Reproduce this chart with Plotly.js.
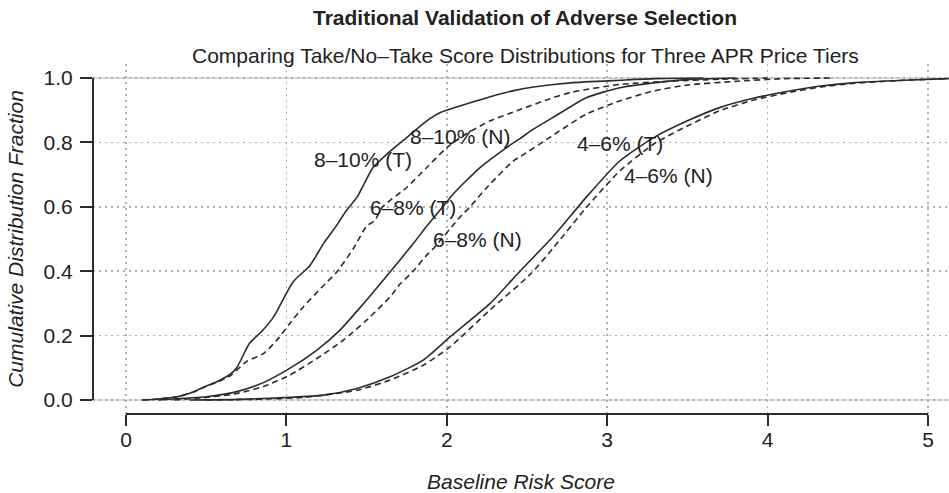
<!DOCTYPE html>
<html>
<head>
<meta charset="utf-8">
<script src="https://cdn.plot.ly/plotly-3.0.1.min.js"></script>
<style>html,body{margin:0;padding:0;background:#fff;}#chart{width:949px;height:493px;}</style>
</head>
<body>
<div id="chart"></div>
<script>
// ---- data ----
var t810_x = [0.10, 0.20, 0.32, 0.42, 0.49, 0.58, 0.65, 0.69, 0.77, 0.85, 0.92, 1.04, 1.147, 1.23, 1.31, 1.376, 1.44, 1.54, 1.625, 1.75, 1.875, 1.96, 2.08, 2.25, 2.41, 2.54, 2.77, 3.08, 3.30, 3.60];
var t810_y = [0.000, 0.003, 0.010, 0.025, 0.041, 0.060, 0.080, 0.100, 0.176, 0.215, 0.258, 0.366, 0.418, 0.485, 0.540, 0.590, 0.630, 0.722, 0.763, 0.815, 0.867, 0.893, 0.913, 0.939, 0.960, 0.972, 0.985, 0.993, 0.998, 1.000];

var n810_x = [0.10, 0.20, 0.32, 0.42, 0.49, 0.58, 0.65, 0.75, 0.856, 0.94, 1.02, 1.105, 1.23, 1.31, 1.417, 1.50, 1.55, 1.60, 1.75, 1.875, 2.00, 2.12, 2.27, 2.435, 2.64, 2.77, 3.08, 3.39, 3.70, 4.00];
var n810_y = [0.000, 0.003, 0.010, 0.025, 0.040, 0.058, 0.075, 0.119, 0.144, 0.186, 0.237, 0.289, 0.355, 0.395, 0.470, 0.540, 0.557, 0.600, 0.660, 0.722, 0.784, 0.826, 0.867, 0.898, 0.935, 0.955, 0.980, 0.990, 0.996, 1.000];

var t68_x = [0.20, 0.29, 0.50, 0.69, 0.856, 1.02, 1.19, 1.334, 1.48, 1.584, 1.708, 1.79, 1.875, 1.958, 2.04, 2.207, 2.373, 2.456, 2.54, 2.66, 2.87, 3.08, 3.29, 3.50, 3.80];
var t68_y = [0.000, 0.003, 0.010, 0.026, 0.054, 0.098, 0.155, 0.217, 0.299, 0.360, 0.435, 0.485, 0.540, 0.590, 0.640, 0.722, 0.784, 0.812, 0.841, 0.877, 0.939, 0.970, 0.985, 0.995, 1.000];

var n68_x = [0.30, 0.50, 0.69, 0.856, 1.02, 1.19, 1.355, 1.50, 1.646, 1.708, 1.79, 1.875, 1.916, 2.08, 2.145, 2.25, 2.415, 2.456, 2.64, 2.87, 3.08, 3.29, 3.50, 3.81, 4.10, 4.40];
var n68_y = [0.000, 0.008, 0.020, 0.042, 0.077, 0.129, 0.186, 0.248, 0.320, 0.360, 0.400, 0.450, 0.470, 0.567, 0.600, 0.660, 0.743, 0.755, 0.815, 0.888, 0.929, 0.960, 0.978, 0.990, 0.998, 1.000];

var t46_x = [0.40, 0.70, 1.02, 1.23, 1.44, 1.646, 1.853, 2.02, 2.27, 2.456, 2.66, 2.87, 3.08, 3.29, 3.50, 3.70, 3.91, 4.12, 4.33, 4.53, 4.85, 5.13];
var t46_y = [0.000, 0.002, 0.008, 0.015, 0.036, 0.072, 0.124, 0.196, 0.300, 0.400, 0.506, 0.630, 0.743, 0.815, 0.867, 0.908, 0.937, 0.958, 0.975, 0.985, 0.993, 0.998];

var n46_x = [0.50, 0.80, 1.10, 1.44, 1.646, 1.853, 2.02, 2.27, 2.52, 2.66, 2.87, 3.08, 3.29, 3.50, 3.70, 3.91, 4.12, 4.33, 4.53, 4.85, 5.13];
var n46_y = [0.000, 0.002, 0.008, 0.030, 0.062, 0.108, 0.165, 0.280, 0.390, 0.470, 0.598, 0.712, 0.795, 0.851, 0.898, 0.931, 0.954, 0.972, 0.983, 0.993, 0.998];

var labelText = ["8\u201310% (T)", "8\u201310% (N)", "6\u20138% (T)", "6\u20138% (N)", "4\u20136% (T)", "4\u20136% (N)"];
var labelX = [1.48, 2.08, 1.79, 2.19, 3.08, 3.38];
var labelY = [0.748, 0.817, 0.598, 0.500, 0.797, 0.697];

var xTicks = [0, 1, 2, 3, 4, 5];
var yTicks = [0, 0.2, 0.4, 0.6, 0.8, 1.0];
var yTickText = ["0.0", "0.2", "0.4", "0.6", "0.8", "1.0"];

var titleText = "Traditional Validation of Adverse Selection";
var subtitleText = "Comparing Take/No\u2013Take Score Distributions for Three APR Price Tiers";
var xTitle = "Baseline Risk Score";
var yTitle = "Cumulative Distribution Fraction";

// ---- drawing ----
var ink = "#2b2b2b";
function curve(x, y, dashed, name) {
  return {x: x, y: y, type: "scatter", mode: "lines", name: name, hoverinfo: "skip",
    line: {color: ink, width: 1.6, dash: dashed ? "6px,4px" : "solid", shape: "spline", smoothing: 0.6}};
}
var traces = [
  curve(t810_x, t810_y, false, "8-10% (T)"),
  curve(n810_x, n810_y, true, "8-10% (N)"),
  curve(t68_x, t68_y, false, "6-8% (T)"),
  curve(n68_x, n68_y, true, "6-8% (N)"),
  curve(t46_x, t46_y, false, "4-6% (T)"),
  curve(n46_x, n46_y, true, "4-6% (N)")
];

var annotations = labelText.map(function (t, i) {
  return {text: t, x: labelX[i], y: labelY[i], xref: "x", yref: "y", showarrow: false,
    font: {size: 21, color: "#222"}, xanchor: "center", yanchor: "middle"};
});
annotations.push({text: subtitleText, xref: "paper", yref: "paper", x: 0.5047, y: 1.0257,
  showarrow: false, font: {size: 21, color: "#222"}, xanchor: "center", yanchor: "middle"});

var shapes = [
  {type: "line", xref: "paper", x0: 0, x1: 1, yref: "y", y0: 1, y1: 1, line: {color: "#d0d0d0", width: 1.5}, layer: "below"},
  {type: "line", xref: "paper", x0: 0, x1: 1, yref: "y", y0: 0, y1: 0, line: {color: "#d0d0d0", width: 1.5}, layer: "below"},
  {type: "line", xref: "paper", x0: 0, x1: 0, yref: "y", y0: 0, y1: 1, line: {color: ink, width: 2}},
  {type: "line", xref: "x", x0: 0, x1: 5, yref: "paper", y0: 0, y1: 0, line: {color: ink, width: 2}}
];

var layout = {
  width: 949, height: 493,
  margin: {l: 93, r: 0, t: 64, b: 79},
  paper_bgcolor: "#fff", plot_bgcolor: "#fff",
  font: {family: "Liberation Sans, Arial, sans-serif", color: "#222", size: 21},
  showlegend: false,
  title: {text: titleText, font: {size: 21, weight: "bold", color: "#222"},
    xref: "paper", x: 0.5047, xanchor: "center", yref: "container", y: 1 - 18 / 493, yanchor: "middle"},
  xaxis: {range: [-0.206, 5.131], tickvals: xTicks, ticktext: xTicks.map(String),
    showline: false, zeroline: false, ticks: "outside", ticklen: 11, tickwidth: 2, tickcolor: ink,
    showgrid: true, gridcolor: "#b0b0b0", griddash: "2px,4px", gridwidth: 1.5,
    tickfont: {size: 21}, automargin: false, ticklabelstandoff: -4,
    title: {text: xTitle, font: {size: 21, style: "italic"}, standoff: 24}},
  yaxis: {range: [-0.0435, 1.0435], tickvals: yTicks, ticktext: yTickText,
    showline: false, zeroline: false, ticks: "outside", ticklen: 12, tickwidth: 2, tickcolor: ink,
    showgrid: true, gridcolor: "#b0b0b0", griddash: "2px,4px", gridwidth: 1.5,
    tickfont: {size: 21}, automargin: false, ticklabelstandoff: 3,
    title: {text: yTitle, font: {size: 21, style: "italic"}, standoff: 14}},
  annotations: annotations,
  shapes: shapes
};

Plotly.newPlot("chart", traces, layout, {displayModeBar: false, staticPlot: true});
</script>
</body>
</html>
